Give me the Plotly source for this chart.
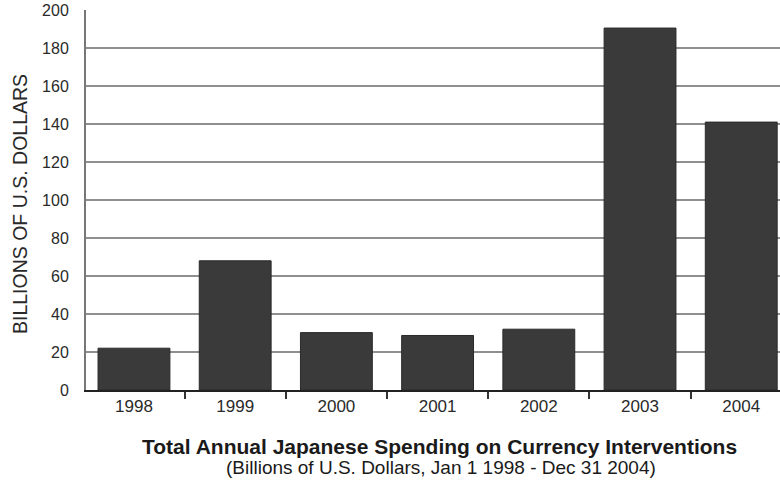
import plotly.graph_objects as go

years = ["1998", "1999", "2000", "2001", "2002", "2003", "2004"]
spending = [22, 68, 30.2, 28.7, 32, 190.5, 141]
y_ticks = [0, 20, 40, 60, 80, 100, 120, 140, 160, 180, 200]

fig = go.Figure()
fig.add_trace(go.Bar(
    x=years, y=spending, width=0.71,
    marker=dict(color="#3a3a3a", line=dict(color="#2a2a2a", width=1)),
))

font = "Liberation Sans, Arial, sans-serif"
L, R, T, B = 86, 0, 10, 93
PW, PH = 780 - L - R, 483 - T - B
fig.update_layout(
    width=780, height=483,
    margin=dict(l=L, r=R, t=T, b=B),
    plot_bgcolor="white", paper_bgcolor="white",
    showlegend=False,
    font=dict(family=font, size=16, color="#2a2a2a"),
    xaxis=dict(
        type="category", range=[-0.474, 6.383],
        showgrid=False, showline=True, linecolor="#222", linewidth=2,
        ticks="outside", tickson="boundaries", ticklen=7, tickwidth=2, tickcolor="#333",
        tickfont=dict(size=17, color="#2a2a2a"),
    ),
    yaxis=dict(
        range=[0, 200], tickvals=y_ticks,
        showgrid=True, gridcolor="#8f8f8f", gridwidth=2,
        showline=True, linecolor="#777", linewidth=2,
        ticks="", ticklabelstandoff=12,
        tickfont=dict(size=16, color="#2a2a2a"),
        zeroline=False,
    ),
    annotations=[
        dict(text="BILLIONS OF U.S. DOLLARS", textangle=-90,
             xref="paper", yref="paper", x=(20 - L) / PW, y=(390 - 204) / PH,
             xanchor="center", yanchor="middle", showarrow=False,
             font=dict(size=19.5, color="#2a2a2a", family=font)),
        dict(text="<b>Total Annual Japanese Spending on Currency Interventions</b>",
             xref="paper", yref="paper", x=(440 - L) / PW, y=(390 - 447) / PH,
             xanchor="center", yanchor="middle", showarrow=False,
             font=dict(size=21, color="#1a1a1a", family=font)),
        dict(text="(Billions of U.S. Dollars, Jan 1 1998 - Dec 31 2004)",
             xref="paper", yref="paper", x=(441 - L) / PW, y=(390 - 467) / PH,
             xanchor="center", yanchor="middle", showarrow=False,
             font=dict(size=19, color="#1a1a1a", family=font)),
    ],
)

fig.write_html("out.html", config={"displayModeBar": False},
               post_script="document.body.style.margin='0';document.body.style.overflow='hidden';")
